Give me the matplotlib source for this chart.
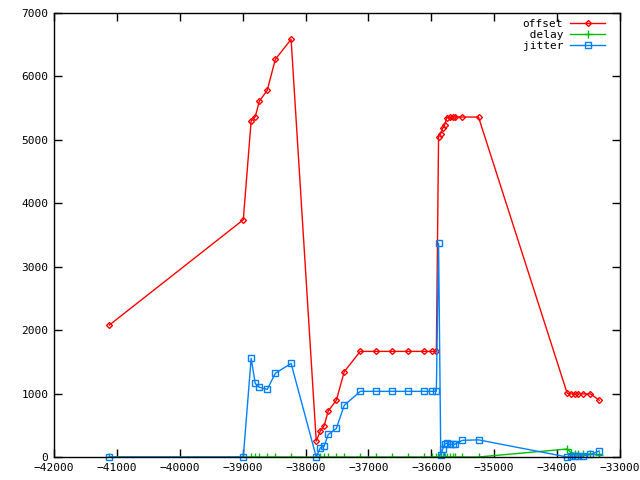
import numpy as np
import matplotlib.pyplot as plt

# 共通の時間軸
t = [-41120, -38990, -38865, -38800, -38735, -38610, -38480, -38230,
     -37830, -37765, -37705, -37640, -37510, -37385, -37130,
     -36875, -36620, -36370, -36115, -35985, -35920,
     -35885, -35850, -35820, -35790, -35755, -35710, -35660, -35630,
     -35505, -35250,
     -33840, -33780, -33720, -33660, -33595, -33470, -33330]

offset = [2080, 3740, 5300, 5365, 5610, 5780, 6270, 6585,
          250, 410, 490, 725, 895, 1345, 1665,
          1665, 1665, 1665, 1665, 1665, 1665,
          5050, 5100, 5180, 5230, 5350, 5360, 5360, 5360,
          5360, 5360,
          1005, 995, 995, 995, 995, 995, 895]

delay = [0, 0, 0, 0, 0, 0, 0, 0,
         0, 0, 0, 0, 0, 0, 0,
         0, 0, 0, 0, 0, 0,
         0, 0, 0, 0, 0, 0, 0, 0,
         0, 0,
         126, 70, 55, 55, 50, 45, 35]

jitter = [0, 0, 1555, 1160, 1100, 1065, 1320, 1475,
          0, 145, 170, 355, 450, 815, 1035,
          1035, 1035, 1035, 1035, 1035, 1035,
          3370, 27, 121, 205, 215, 200, 200, 200,
          263, 270,
          0, 15, 15, 15, 15, 40, 95]

xticks = np.arange(-42000, -32999, 1000)
yticks = np.arange(0, 7001, 1000)

plt.rcParams['font.family'] = ['DejaVu Sans Mono']
plt.rcParams['font.size'] = 8

fig = plt.figure(figsize=(6.4, 4.8), dpi=100)
ax = fig.add_axes([54 / 640, 23 / 480, 566 / 640, 444 / 480])

ax.plot(t, offset, color='#ff0000', lw=1, marker='D', ms=3, mfc='none',
        mew=1, label='offset', clip_on=False)
ax.plot(t, delay, color='#00c000', lw=1, marker='+', ms=6, mew=1,
        label=' delay')
ax.plot(t, jitter, color='#0080ff', lw=1, marker='s', ms=4, mfc='none',
        mew=1, label='jitter', clip_on=False)

ax.set_xlim(-42000, -33000)
ax.set_ylim(0, 7000)
ax.set_xticks(xticks)
ax.set_yticks(yticks)
ax.tick_params(direction='in', length=6, width=1, top=True, right=True,
               pad=4, labelsize=8)
for s in ax.spines.values():
    s.set_linewidth(1)

leg = ax.legend(loc='upper right', bbox_to_anchor=(0.99, 1.007), frameon=False,
                markerfirst=False, handlelength=3.2, labelspacing=0.1,
                handletextpad=0.6, borderaxespad=0.4, fontsize=8)

fig.savefig('out.png', dpi=100)
